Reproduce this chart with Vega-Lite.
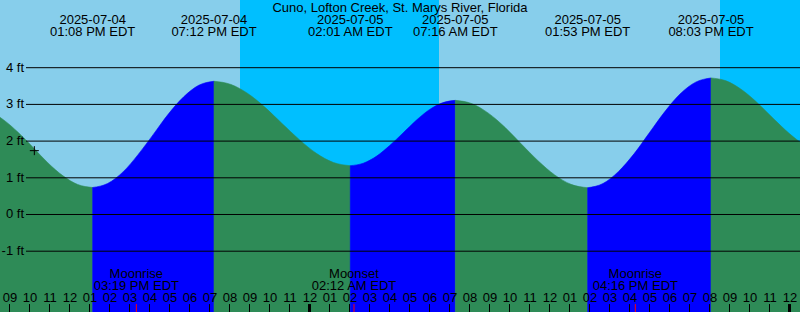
{
  "$schema": "https://vega.github.io/schema/vega-lite/v6.json",
  "width": 800,
  "height": 312,
  "autosize": {"type": "none"},
  "padding": 0,
  "background": "#87CEEB",
  "config": {"view": {"stroke": null}, "font": "Liberation Sans"},
  "resolve": {"scale": {"color": "independent", "stroke": "independent"}},
  "datasets": {
    "sky": [
      {"start": "2025-07-04T08:00", "end": "2025-07-04T20:30", "period": "day"},
      {"start": "2025-07-04T20:30", "end": "2025-07-05T06:27", "period": "night"},
      {"start": "2025-07-05T06:27", "end": "2025-07-05T20:30", "period": "day"},
      {"start": "2025-07-05T20:30", "end": "2025-07-06T01:00", "period": "night"}
    ],
    "tide": [
      {"t": "2025-07-04T07:11", "h": 2.9, "seg": 0, "dir": "fall"},
      {"t": "2025-07-04T07:56", "h": 2.818, "seg": 0, "dir": "fall"},
      {"t": "2025-07-04T08:40", "h": 2.583, "seg": 0, "dir": "fall"},
      {"t": "2025-07-04T09:25", "h": 2.232, "seg": 0, "dir": "fall"},
      {"t": "2025-07-04T10:10", "h": 1.818, "seg": 0, "dir": "fall"},
      {"t": "2025-07-04T10:54", "h": 1.404, "seg": 0, "dir": "fall"},
      {"t": "2025-07-04T11:39", "h": 1.053, "seg": 0, "dir": "fall"},
      {"t": "2025-07-04T12:23", "h": 0.818, "seg": 0, "dir": "fall"},
      {"t": "2025-07-04T13:08", "h": 0.736, "seg": 0, "dir": "fall"},
      {"t": "2025-07-04T13:08", "h": 0.736, "seg": 1, "dir": "rise"},
      {"t": "2025-07-04T13:53", "h": 0.846, "seg": 1, "dir": "rise"},
      {"t": "2025-07-04T14:39", "h": 1.16, "seg": 1, "dir": "rise"},
      {"t": "2025-07-04T15:24", "h": 1.629, "seg": 1, "dir": "rise"},
      {"t": "2025-07-04T16:10", "h": 2.183, "seg": 1, "dir": "rise"},
      {"t": "2025-07-04T16:55", "h": 2.737, "seg": 1, "dir": "rise"},
      {"t": "2025-07-04T17:41", "h": 3.206, "seg": 1, "dir": "rise"},
      {"t": "2025-07-04T18:26", "h": 3.52, "seg": 1, "dir": "rise"},
      {"t": "2025-07-04T19:12", "h": 3.63, "seg": 1, "dir": "rise"},
      {"t": "2025-07-04T19:12", "h": 3.63, "seg": 2, "dir": "fall"},
      {"t": "2025-07-04T20:03", "h": 3.542, "seg": 2, "dir": "fall"},
      {"t": "2025-07-04T20:54", "h": 3.293, "seg": 2, "dir": "fall"},
      {"t": "2025-07-04T21:45", "h": 2.92, "seg": 2, "dir": "fall"},
      {"t": "2025-07-04T22:36", "h": 2.48, "seg": 2, "dir": "fall"},
      {"t": "2025-07-04T23:28", "h": 2.04, "seg": 2, "dir": "fall"},
      {"t": "2025-07-05T00:19", "h": 1.667, "seg": 2, "dir": "fall"},
      {"t": "2025-07-05T01:10", "h": 1.418, "seg": 2, "dir": "fall"},
      {"t": "2025-07-05T02:01", "h": 1.33, "seg": 2, "dir": "fall"},
      {"t": "2025-07-05T02:01", "h": 1.33, "seg": 3, "dir": "rise"},
      {"t": "2025-07-05T02:40", "h": 1.398, "seg": 3, "dir": "rise"},
      {"t": "2025-07-05T03:20", "h": 1.591, "seg": 3, "dir": "rise"},
      {"t": "2025-07-05T03:59", "h": 1.879, "seg": 3, "dir": "rise"},
      {"t": "2025-07-05T04:39", "h": 2.22, "seg": 3, "dir": "rise"},
      {"t": "2025-07-05T05:18", "h": 2.561, "seg": 3, "dir": "rise"},
      {"t": "2025-07-05T05:57", "h": 2.849, "seg": 3, "dir": "rise"},
      {"t": "2025-07-05T06:37", "h": 3.042, "seg": 3, "dir": "rise"},
      {"t": "2025-07-05T07:16", "h": 3.11, "seg": 3, "dir": "rise"},
      {"t": "2025-07-05T07:16", "h": 3.11, "seg": 4, "dir": "fall"},
      {"t": "2025-07-05T08:06", "h": 3.019, "seg": 4, "dir": "fall"},
      {"t": "2025-07-05T08:55", "h": 2.761, "seg": 4, "dir": "fall"},
      {"t": "2025-07-05T09:45", "h": 2.375, "seg": 4, "dir": "fall"},
      {"t": "2025-07-05T10:34", "h": 1.92, "seg": 4, "dir": "fall"},
      {"t": "2025-07-05T11:24", "h": 1.465, "seg": 4, "dir": "fall"},
      {"t": "2025-07-05T12:14", "h": 1.079, "seg": 4, "dir": "fall"},
      {"t": "2025-07-05T13:03", "h": 0.821, "seg": 4, "dir": "fall"},
      {"t": "2025-07-05T13:53", "h": 0.73, "seg": 4, "dir": "fall"},
      {"t": "2025-07-05T13:53", "h": 0.73, "seg": 5, "dir": "rise"},
      {"t": "2025-07-05T14:39", "h": 0.844, "seg": 5, "dir": "rise"},
      {"t": "2025-07-05T15:25", "h": 1.168, "seg": 5, "dir": "rise"},
      {"t": "2025-07-05T16:12", "h": 1.653, "seg": 5, "dir": "rise"},
      {"t": "2025-07-05T16:58", "h": 2.225, "seg": 5, "dir": "rise"},
      {"t": "2025-07-05T17:44", "h": 2.797, "seg": 5, "dir": "rise"},
      {"t": "2025-07-05T18:30", "h": 3.282, "seg": 5, "dir": "rise"},
      {"t": "2025-07-05T19:17", "h": 3.606, "seg": 5, "dir": "rise"},
      {"t": "2025-07-05T20:03", "h": 3.72, "seg": 5, "dir": "rise"},
      {"t": "2025-07-05T20:03", "h": 3.72, "seg": 6, "dir": "fall"},
      {"t": "2025-07-05T20:48", "h": 3.642, "seg": 6, "dir": "fall"},
      {"t": "2025-07-05T21:32", "h": 3.42, "seg": 6, "dir": "fall"},
      {"t": "2025-07-05T22:17", "h": 3.087, "seg": 6, "dir": "fall"},
      {"t": "2025-07-05T23:01", "h": 2.695, "seg": 6, "dir": "fall"},
      {"t": "2025-07-05T23:46", "h": 2.303, "seg": 6, "dir": "fall"},
      {"t": "2025-07-06T00:31", "h": 1.97, "seg": 6, "dir": "fall"},
      {"t": "2025-07-06T01:15", "h": 1.748, "seg": 6, "dir": "fall"}
    ],
    "events": [
      {"t": "2025-07-04T13:08", "label": "2025-07-04\n01:08 PM EDT"},
      {"t": "2025-07-04T19:12", "label": "2025-07-04\n07:12 PM EDT"},
      {"t": "2025-07-05T02:01", "label": "2025-07-05\n02:01 AM EDT"},
      {"t": "2025-07-05T07:16", "label": "2025-07-05\n07:16 AM EDT"},
      {"t": "2025-07-05T13:53", "label": "2025-07-05\n01:53 PM EDT"},
      {"t": "2025-07-05T20:03", "label": "2025-07-05\n08:03 PM EDT"}
    ],
    "moon": [
      {"t": "2025-07-04T15:19", "label": "Moonrise\n03:19 PM EDT"},
      {"t": "2025-07-05T02:12", "label": "Moonset\n02:12 AM EDT"},
      {"t": "2025-07-05T16:16", "label": "Moonrise\n04:16 PM EDT"}
    ],
    "levels": [
      {"v": -1, "label": "-1 ft"}, {"v": 0, "label": "0 ft"}, {"v": 1, "label": "1 ft"},
      {"v": 2, "label": "2 ft"}, {"v": 3, "label": "3 ft"}, {"v": 4, "label": "4 ft"}
    ],
    "hours": [
      {"t": "2025-07-04T09:00"}, {"t": "2025-07-04T10:00"}, {"t": "2025-07-04T11:00"}, {"t": "2025-07-04T12:00"},
      {"t": "2025-07-04T13:00"}, {"t": "2025-07-04T14:00"}, {"t": "2025-07-04T15:00"}, {"t": "2025-07-04T16:00"},
      {"t": "2025-07-04T17:00"}, {"t": "2025-07-04T18:00"}, {"t": "2025-07-04T19:00"}, {"t": "2025-07-04T20:00"},
      {"t": "2025-07-04T21:00"}, {"t": "2025-07-04T22:00"}, {"t": "2025-07-04T23:00"}, {"t": "2025-07-05T00:00"},
      {"t": "2025-07-05T01:00"}, {"t": "2025-07-05T02:00"}, {"t": "2025-07-05T03:00"}, {"t": "2025-07-05T04:00"},
      {"t": "2025-07-05T05:00"}, {"t": "2025-07-05T06:00"}, {"t": "2025-07-05T07:00"}, {"t": "2025-07-05T08:00"},
      {"t": "2025-07-05T09:00"}, {"t": "2025-07-05T10:00"}, {"t": "2025-07-05T11:00"}, {"t": "2025-07-05T12:00"},
      {"t": "2025-07-05T13:00"}, {"t": "2025-07-05T14:00"}, {"t": "2025-07-05T15:00"}, {"t": "2025-07-05T16:00"},
      {"t": "2025-07-05T17:00"}, {"t": "2025-07-05T18:00"}, {"t": "2025-07-05T19:00"}, {"t": "2025-07-05T20:00"},
      {"t": "2025-07-05T21:00"}, {"t": "2025-07-05T22:00"}, {"t": "2025-07-05T23:00"}, {"t": "2025-07-06T00:00"}
    ],
    "now": [{"t": "2025-07-04T10:13", "h": 1.74}],
    "heading": [{"t": "2025-07-05T04:30", "text": "Cuno, Lofton Creek, St. Marys River, Florida"}]
  },
  "layer": [
    {
      "data": {"name": "sky"},
      "mark": {"type": "rect", "clip": true},
      "encoding": {
        "x": {
          "field": "start", "type": "temporal", "axis": null,
          "scale": {
            "domain": [
              {"year": 2025, "month": 7, "date": 4, "hours": 8, "minutes": 30},
              {"year": 2025, "month": 7, "date": 6, "hours": 0, "minutes": 30}
            ],
            "nice": false
          }
        },
        "x2": {"field": "end"},
        "color": {
          "field": "period", "type": "nominal",
          "scale": {"domain": ["day", "night"], "range": ["#87CEEB", "#00BFFF"]},
          "legend": null
        }
      }
    },
    {
      "data": {"name": "tide"},
      "mark": {"type": "area", "interpolate": "monotone", "clip": true, "strokeWidth": 0.6},
      "encoding": {
        "x": {"field": "t", "type": "temporal", "axis": null},
        "y": {
          "field": "h", "type": "quantitative", "stack": null, "axis": null,
          "scale": {"domain": [-2.6567, 5.8447], "nice": false, "zero": false}
        },
        "y2": {"datum": -3},
        "color": {
          "field": "dir", "type": "nominal",
          "scale": {"domain": ["fall", "rise"], "range": ["#2E8B57", "#0000FF"]},
          "legend": null
        },
        "stroke": {
          "field": "dir", "type": "nominal",
          "scale": {"domain": ["fall", "rise"], "range": ["#2E8B57", "#0000FF"]},
          "legend": null
        },
        "detail": {"field": "seg", "type": "nominal"}
      }
    },
    {
      "data": {"name": "levels"},
      "layer": [
        {
          "mark": {"type": "rule", "color": "black", "strokeWidth": 1, "clip": true},
          "encoding": {
            "y": {"field": "v", "type": "quantitative", "axis": null},
            "x": {"datum": {"year": 2025, "month": 7, "date": 4, "hours": 9, "minutes": 48}, "axis": null},
            "x2": {"datum": {"year": 2025, "month": 7, "date": 6, "hours": 0, "minutes": 30}}
          }
        },
        {
          "mark": {"type": "text", "align": "right", "baseline": "middle", "dx": -2, "font": "Liberation Sans", "fontSize": 13, "color": "black"},
          "encoding": {
            "y": {"field": "v", "type": "quantitative", "axis": null},
            "x": {"datum": {"year": 2025, "month": 7, "date": 4, "hours": 9, "minutes": 48}, "axis": null},
            "text": {"field": "label", "type": "nominal"}
          }
        }
      ]
    },
    {
      "data": {"name": "hours"},
      "layer": [
        {
          "mark": {"type": "rule", "color": "black", "xOffset": -0.5, "clip": true},
          "encoding": {
            "x": {"field": "t", "type": "temporal", "axis": null},
            "y": {"datum": -2.66, "axis": null},
            "y2": {"datum": -2.44},
            "strokeWidth": {"condition": {"test": "hours(datum.t) === 0", "value": 3}, "value": 1}
          }
        },
        {
          "mark": {"type": "text", "align": "center", "baseline": "alphabetic", "font": "Liberation Sans", "fontSize": 13, "color": "black"},
          "encoding": {
            "x": {"field": "t", "type": "temporal", "axis": null},
            "y": {"datum": -2.376, "axis": null},
            "text": {"field": "t", "type": "temporal", "format": "%I"}
          }
        }
      ]
    },
    {
      "data": {"name": "now"},
      "mark": {"type": "point", "shape": "M-1,0H1M0,-1V1", "size": 81, "filled": false, "color": "black", "strokeWidth": 1, "opacity": 1},
      "encoding": {
        "x": {"field": "t", "type": "temporal", "axis": null},
        "y": {"field": "h", "type": "quantitative", "axis": null}
      }
    },
    {
      "data": {"name": "events"},
      "mark": {"type": "text", "align": "center", "baseline": "alphabetic", "lineBreak": "\n", "lineHeight": 12, "font": "Liberation Sans", "fontSize": 13, "color": "black"},
      "encoding": {
        "x": {"field": "t", "type": "temporal", "axis": null},
        "y": {"datum": 5.19, "axis": null},
        "text": {"field": "label", "type": "nominal"}
      }
    },
    {
      "data": {"name": "moon"},
      "layer": [
        {
          "mark": {"type": "rule", "color": "#FF0000", "strokeWidth": 1, "clip": true},
          "encoding": {
            "x": {"field": "t", "type": "temporal", "axis": null},
            "y": {"datum": -2.66, "axis": null},
            "y2": {"datum": -2.44}
          }
        },
        {
          "mark": {"type": "text", "align": "center", "baseline": "alphabetic", "lineBreak": "\n", "lineHeight": 12, "font": "Liberation Sans", "fontSize": 13, "color": "black"},
          "encoding": {
            "x": {"field": "t", "type": "temporal", "axis": null},
            "y": {"datum": -1.72, "axis": null},
            "text": {"field": "label", "type": "nominal"}
          }
        }
      ]
    },
    {
      "data": {"name": "heading"},
      "mark": {"type": "text", "align": "center", "baseline": "alphabetic", "font": "Liberation Sans", "fontSize": 13, "color": "black"},
      "encoding": {
        "x": {"field": "t", "type": "temporal", "axis": null},
        "y": {"datum": 5.51, "axis": null},
        "text": {"field": "text", "type": "nominal"}
      }
    }
  ]
}
